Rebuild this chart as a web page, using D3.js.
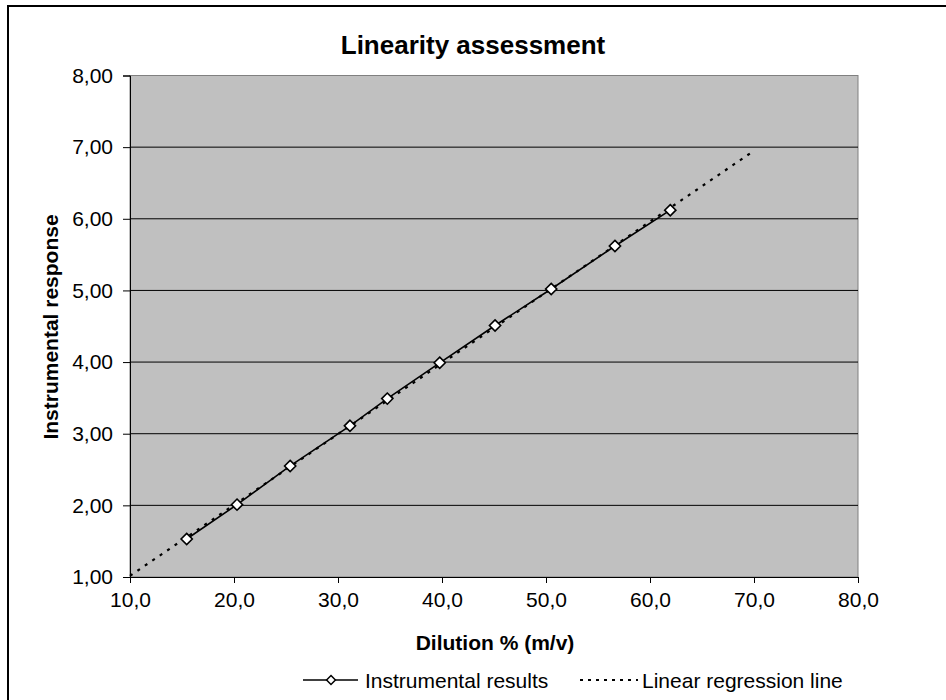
<!DOCTYPE html>
<html>
<head>
<meta charset="utf-8">
<script src="https://cdn.jsdelivr.net/npm/d3@7"></script>
<style>
  body { margin: 0; background: #fff; }
  svg { display: block; font-family: "Liberation Sans", Arial, sans-serif; }
</style>
</head>
<body>
<svg id="chart" width="946" height="700"></svg>
<script>
// Data
const dilution = [15.45, 20.29, 25.4, 31.15, 34.74, 39.78, 45.1, 50.5, 56.63, 61.95];
const response = [1.53, 2.01, 2.55, 3.11, 3.49, 3.99, 4.51, 5.02, 5.62, 6.12];
const regressionRange = [10, 70];
const xTicks = [10, 20, 30, 40, 50, 60, 70, 80];
const yTicks = [1, 2, 3, 4, 5, 6, 7, 8];

const svg = d3.select("#chart");
const plot = { left: 130, right: 858, top: 75.5, bottom: 577 };
const FONT = "'Liberation Sans', Arial, sans-serif";

// outer chart frame
svg.append("rect").attr("x", 8).attr("y", 6).attr("width", 950).attr("height", 720)
  .attr("fill", "#fff").attr("stroke", "#000").attr("stroke-width", 2);

const x = d3.scaleLinear().domain([10, 80]).range([plot.left, plot.right]);
const y = d3.scaleLinear().domain([1, 8]).range([plot.bottom, plot.top]);

// plot area
svg.append("rect").attr("x", plot.left).attr("y", plot.top)
  .attr("width", plot.right - plot.left).attr("height", plot.bottom - plot.top)
  .attr("fill", "#c0c0c0").attr("stroke", "#808080").attr("stroke-width", 1);

// gridlines
svg.append("g").selectAll("line").data(yTicks.filter(t => t > 1 && t < 8)).join("line")
  .attr("x1", plot.left).attr("x2", plot.right)
  .attr("y1", d => y(d)).attr("y2", d => y(d))
  .attr("stroke", "#000").attr("stroke-width", 1);

// axes
const fmtX = d => d3.format(".1f")(d).replace(".", ",");
const fmtY = d => d3.format(".2f")(d).replace(".", ",");

const xAxis = svg.append("g").attr("transform", `translate(0,${plot.bottom})`)
  .call(d3.axisBottom(x).tickValues(xTicks).tickFormat(fmtX).tickSizeOuter(0).tickSize(6).tickPadding(9));
const yAxis = svg.append("g").attr("transform", `translate(${plot.left},0)`)
  .call(d3.axisLeft(y).tickValues(yTicks).tickFormat(fmtY).tickSizeOuter(0).tickSize(7).tickPadding(10));

[xAxis, yAxis].forEach(a => {
  a.attr("font-size", 21).attr("font-family", FONT);
  a.selectAll("text").attr("fill", "#000");
  a.selectAll("line").attr("stroke", "#000");
  a.select(".domain").attr("stroke", "#000");
});

// regression line (least squares from the data)
const n = dilution.length;
const mx = d3.mean(dilution), my = d3.mean(response);
let sxy = 0, sxx = 0;
for (let i = 0; i < n; i++) { sxy += (dilution[i] - mx) * (response[i] - my); sxx += (dilution[i] - mx) ** 2; }
const slope = sxy / sxx, intercept = my - slope * mx;
const regPts = regressionRange.map(v => [v, intercept + slope * v]);

const line = d3.line().x(d => x(d[0])).y(d => y(d[1]));
svg.append("path").datum(regPts).attr("d", line)
  .attr("fill", "none").attr("stroke", "#000").attr("stroke-width", 2.2)
  .attr("stroke-dasharray", "3,6");

// data line
const pts = dilution.map((d, i) => [d, response[i]]);
svg.append("path").datum(pts).attr("d", line)
  .attr("fill", "none").attr("stroke", "#000").attr("stroke-width", 1.6);

const diamond = d3.symbol().type(d3.symbolDiamond2).size(80);
svg.append("g").selectAll("path").data(pts).join("path")
  .attr("transform", d => `translate(${x(d[0])},${y(d[1])})`)
  .attr("d", diamond).attr("fill", "#fff").attr("stroke", "#000").attr("stroke-width", 1.6);

// title & axis titles
svg.append("text").attr("x", 473).attr("y", 54).attr("text-anchor", "middle")
  .attr("font-size", 26).attr("font-weight", "bold").text("Linearity assessment");
svg.append("text").attr("x", 495).attr("y", 650).attr("text-anchor", "middle")
  .attr("font-size", 21).attr("font-weight", "bold").text("Dilution % (m/v)");
svg.append("text").attr("transform", `translate(58,327) rotate(-90)`).attr("text-anchor", "middle")
  .attr("font-size", 21).attr("font-weight", "bold").text("Instrumental response");

// legend
const lg = svg.append("g");
const ly = 680;
lg.append("line").attr("x1", 303).attr("x2", 358).attr("y1", ly).attr("y2", ly)
  .attr("stroke", "#000").attr("stroke-width", 1.6);
lg.append("path").attr("transform", `translate(331,${ly})`)
  .attr("d", d3.symbol().type(d3.symbolDiamond2).size(50))
  .attr("fill", "#fff").attr("stroke", "#000").attr("stroke-width", 1.5);
lg.append("text").attr("x", 365).attr("y", ly + 8).attr("font-size", 21).text("Instrumental results");
lg.append("line").attr("x1", 580).attr("x2", 638).attr("y1", ly).attr("y2", ly)
  .attr("stroke", "#000").attr("stroke-width", 2).attr("stroke-dasharray", "3,5");
lg.append("text").attr("x", 642).attr("y", ly + 8).attr("font-size", 21).text("Linear regression line");
</script>
</body>
</html>
